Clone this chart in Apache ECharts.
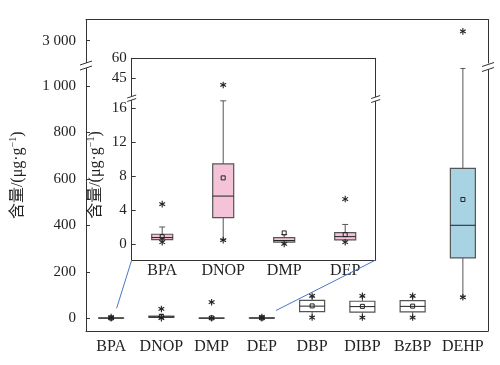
<!DOCTYPE html>
<html><head><meta charset="utf-8">
<script src="https://cdn.jsdelivr.net/npm/echarts@6/dist/echarts.min.js"></script>
<style>html,body{margin:0;padding:0;background:#fff}#c{width:500px;height:365px}</style>
</head><body><div id="c"></div>
<script>
// ---------- data ----------
const categories = ['BPA', 'DNOP', 'DMP', 'DEP', 'DBP', 'DIBP', 'BzBP', 'DEHP'];
const insetCategories = ['BPA', 'DNOP', 'DMP', 'DEP'];
// [lower whisker, Q1, median, Q3, upper whisker]
const boxStats = [
  [0.45, 0.5, 0.75, 1.14, 2.0],
  [0.5, 3.1, 5.65, 9.45, 16.9],
  [0.2, 0.2, 0.4, 0.74, 1.1],
  [0.47, 0.47, 0.86, 1.33, 2.3],
  [8, 28, 52, 77, 92],
  [7, 26, 50, 73, 92],
  [6, 27, 51, 76, 92],
  [95, 260, 400, 645, 1075]
];
const means = [0.86, 7.8, 1.3, 1.1, 53, 51, 52, 511];
// [category index, value]
const outliers = [
  [0, 0.2], [0, 4.7],
  [1, 0.45], [1, 40],
  [2, 0.0], [2, 69],
  [3, 0.2], [3, 5.3],
  [4, 3], [4, 96],
  [5, 3], [5, 96],
  [6, 3], [6, 96],
  [7, 90], [7, 3040]
];
const mainTicksLow = [0, 200, 400, 600, 800, 1000];
const mainTicksHigh = [3000];
const insetTicksLow = [0, 4, 8, 12, 16];
const insetTicksHigh = [45, 60];
const mainRangeLow = [-55, 1077];
const mainRangeHigh = [2904, 3091];
const insetRangeLow = [-1.9, 17];
const insetRangeHigh = [31.7, 60];

// ---------- layout ----------
const M = { left: 86, right: 488, top: 19.5, brkTop: 63, brkBot: 68, bottom: 331 };
const I = { left: 131.7, right: 375.7, top: 58.3, brkTop: 96, brkBot: 100, bottom: 260 };
const SERIF = '"Liberation Serif", "Noto Sans CJK SC", serif';
const TXT = '#222';
const FRAME = '#333';

function grid(P, upper) {
  return upper
    ? { left: P.left, top: P.top, width: P.right - P.left, height: P.brkTop - P.top, outerBoundsMode: 'none' }
    : { left: P.left, top: P.brkBot, width: P.right - P.left, height: P.bottom - P.brkBot, outerBoundsMode: 'none' };
}
function xAxis(g, cats, upper, fontSize, margin) {
  return {
    type: 'category', gridIndex: g, data: cats, position: upper ? 'top' : 'bottom',
    axisLine: { show: true, onZero: false, lineStyle: { color: FRAME, width: 1 } },
    axisTick: { show: false },
    axisLabel: { show: !upper, interval: 0, fontFamily: SERIF, fontSize: fontSize, color: TXT, margin: margin, hideOverlap: false },
    splitLine: { show: false }
  };
}
function yAxes(g, range, ticks, labelMargin, fmt, fontSize) {
  return [{
    type: 'value', gridIndex: g, min: range[0], max: range[1], position: 'left',
    axisLine: { show: true, onZero: false, lineStyle: { color: FRAME, width: 1 } },
    axisTick: { show: true, inside: true, length: 4, customValues: ticks, lineStyle: { color: FRAME } },
    axisLabel: { show: true, customValues: ticks, fontFamily: SERIF, fontSize: fontSize, color: TXT, margin: labelMargin, formatter: fmt },
    splitLine: { show: false }
  }, {
    type: 'value', gridIndex: g, min: range[0], max: range[1], position: 'right',
    axisLine: { show: true, onZero: false, lineStyle: { color: FRAME, width: 1 } },
    axisTick: { show: false }, axisLabel: { show: false }, splitLine: { show: false }
  }];
}
const thousands = v => (v >= 1000 ? String(v).replace(/\B(?=(\d{3})+(?!\d))/g, ' ') : String(v));

function boxRender(width, capW, fillFn, stroke) {
  return function (params, api) {
    const i = api.value(0);
    const x = api.coord([i, 0])[0];
    const y = k => api.coord([i, api.value(k)])[1];
    const yMin = y(1), yQ1 = y(2), yMed = y(3), yQ3 = y(4), yMax = y(5), yMean = y(6);
    const h = width / 2;
    const ls = { stroke: stroke, lineWidth: 1 };
    return {
      type: 'group', children: [
        { type: 'line', shape: { x1: x, y1: yQ3, x2: x, y2: yMax }, style: ls },
        { type: 'line', shape: { x1: x, y1: yQ1, x2: x, y2: yMin }, style: ls },
        { type: 'line', shape: { x1: x - capW / 2, y1: yMax, x2: x + capW / 2, y2: yMax }, style: ls },
        { type: 'line', shape: { x1: x - capW / 2, y1: yMin, x2: x + capW / 2, y2: yMin }, style: ls },
        { type: 'rect', shape: { x: x - h, y: yQ3, width: width, height: Math.max(yQ1 - yQ3, 0.01) }, style: { fill: fillFn(i), stroke: stroke, lineWidth: 1.2 } },
        { type: 'line', shape: { x1: x - h, y1: yMed, x2: x + h, y2: yMed }, style: { stroke: '#222', lineWidth: 1 } },
        { type: 'rect', shape: { x: x - 2, y: yMean - 2, width: 4, height: 4 }, style: { fill: 'none', stroke: '#222', lineWidth: 1 } }
      ]
    };
  };
}
function starRender(params, api) {
  const p = api.coord([api.value(0), api.value(1)]);
  const r = 3.3;
  const st = { stroke: '#222', lineWidth: 1.1 };
  return {
    type: 'group', children: [
      { type: 'line', shape: { x1: p[0], y1: p[1] - r, x2: p[0], y2: p[1] + r }, style: st },
      { type: 'line', shape: { x1: p[0] - r * 0.87, y1: p[1] - r * 0.5, x2: p[0] + r * 0.87, y2: p[1] + r * 0.5 }, style: st },
      { type: 'line', shape: { x1: p[0] - r * 0.87, y1: p[1] + r * 0.5, x2: p[0] + r * 0.87, y2: p[1] - r * 0.5 }, style: st }
    ]
  };
}
const inRange = (v, r) => v >= r[0] && v <= r[1];
const boxData = boxStats.map((b, i) => [i].concat(b, [means[i]]));

const chart = echarts.init(document.getElementById('c'), null, { renderer: 'canvas' });
const option = {
  animation: false,
  backgroundColor: '#fff',
  grid: [grid(M, true), grid(M, false), grid(I, true), grid(I, false)],
  xAxis: [
    xAxis(0, categories, true, 16, 7),
    xAxis(1, categories, false, 16, 8),
    xAxis(2, insetCategories, true, 16, 3),
    xAxis(3, insetCategories, false, 16, 3)
  ],
  yAxis: [].concat(
    yAxes(0, mainRangeHigh, mainTicksHigh, 10, thousands, 15),
    yAxes(1, mainRangeLow, mainTicksLow, 10, thousands, 15),
    yAxes(2, insetRangeHigh, insetTicksHigh, 5, null, 15),
    yAxes(3, insetRangeLow, insetTicksLow, 5, null, 15)
  ),
  series: [
    { type: 'custom', xAxisIndex: 1, yAxisIndex: 2, renderItem: boxRender(25, 5, i => (i === 7 ? '#a7d3e2' : '#fff'), '#555'),
      encode: { x: 0, y: [1, 2, 3, 4, 5] }, data: boxData },
    { type: 'custom', xAxisIndex: 1, yAxisIndex: 2, renderItem: starRender, encode: { x: 0, y: 1 },
      data: outliers.filter(o => inRange(o[1], mainRangeLow)) },
    { type: 'custom', xAxisIndex: 0, yAxisIndex: 0, renderItem: starRender, encode: { x: 0, y: 1 },
      data: outliers.filter(o => inRange(o[1], mainRangeHigh)) },
    { type: 'custom', xAxisIndex: 3, yAxisIndex: 6, renderItem: boxRender(21, 6, () => '#f5c3d7', '#555'),
      encode: { x: 0, y: [1, 2, 3, 4, 5] }, data: boxData.slice(0, insetCategories.length) },
    { type: 'custom', xAxisIndex: 3, yAxisIndex: 6, renderItem: starRender, encode: { x: 0, y: 1 },
      data: outliers.filter(o => o[0] < insetCategories.length && inRange(o[1], insetRangeLow)) },
    { type: 'custom', xAxisIndex: 2, yAxisIndex: 4, renderItem: starRender, encode: { x: 0, y: 1 },
      data: outliers.filter(o => o[0] < insetCategories.length && inRange(o[1], insetRangeHigh)) }
  ]
};
chart.setOption(option);

// ---------- decorations ----------
function breakMarks(x, y1, y2, hw, hh) {
  const st = { stroke: FRAME, lineWidth: 1 };
  return [
    { type: 'polygon', shape: { points: [[x - hw, y1 + hh], [x + hw, y1 - hh], [x + hw, y2 - hh], [x - hw, y2 + hh]] }, style: { fill: '#fff' }, z: 100 },
    { type: 'line', shape: { x1: x - hw, y1: y1 + hh, x2: x + hw, y2: y1 - hh }, style: st, z: 101 },
    { type: 'line', shape: { x1: x - hw, y1: y2 + hh, x2: x + hw, y2: y2 - hh }, style: st, z: 101 }
  ];
}
function yTitle(x, y) {
  return {
    type: 'text', x: x, y: y, rotation: Math.PI / 2, z: 100,
    style: {
      text: '{a|含量/(μg·g}{s|−1}{a|)}',
      align: 'center', verticalAlign: 'middle',
      rich: {
        a: { fontFamily: SERIF, fontSize: 16, fill: TXT, lineHeight: 18, verticalAlign: 'bottom' },
        s: { fontFamily: SERIF, fontSize: 10, fill: TXT, lineHeight: 18, verticalAlign: 'top' }
      }
    }
  };
}
const pMainBPA = chart.convertToPixel({ xAxisIndex: 1, yAxisIndex: 2 }, [0, 43]);
const pMainDEP = chart.convertToPixel({ xAxisIndex: 1, yAxisIndex: 2 }, [3, 33]);
const blue = { stroke: '#4a76c6', lineWidth: 1 };
const frameSt = { stroke: FRAME, lineWidth: 1 };
const xr = Math.floor(I.right) + 0.5;
chart.setOption({
  graphic: [].concat(
    [
      { type: 'line', shape: { x1: xr, y1: I.top, x2: xr, y2: I.brkTop + 1 }, style: frameSt, z: 90 },
      { type: 'line', shape: { x1: xr, y1: I.brkBot, x2: xr, y2: I.bottom }, style: frameSt, z: 90 }
    ],
    breakMarks(M.left, M.brkTop, M.brkBot, 6, 2),
    breakMarks(M.right, M.brkTop + 1.5, M.brkBot + 1.5, 6, 2),
    breakMarks(I.left, I.brkTop + 0.5, I.brkBot, 4.5, 1.5),
    breakMarks(I.right, I.brkTop + 1, I.brkBot + 1, 4.5, 1.5),
    [
      { type: 'line', shape: { x1: pMainBPA[0] + 5.5, y1: pMainBPA[1], x2: I.left, y2: I.bottom }, style: blue, z: 50 },
      { type: 'line', shape: { x1: pMainDEP[0] + 14, y1: pMainDEP[1], x2: I.right, y2: I.bottom }, style: blue, z: 50 },
      yTitle(17, (M.top + M.bottom) / 2),
      yTitle(95, 175)
    ]
  )
});
</script></body></html>
